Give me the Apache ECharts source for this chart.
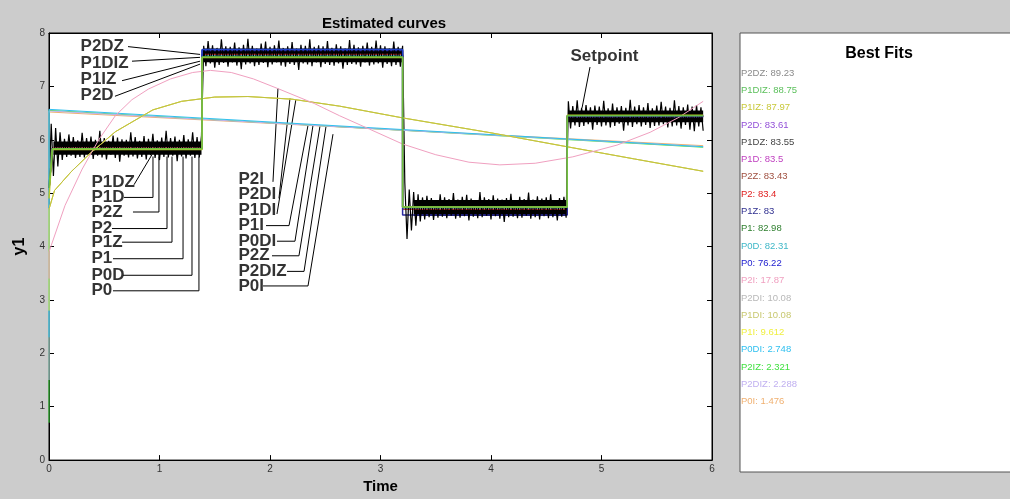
<!DOCTYPE html>
<html><head><meta charset="utf-8">
<script src="https://cdn.jsdelivr.net/npm/echarts@6/dist/echarts.min.js"></script>
<style>html,body{margin:0;padding:0;background:#cccccc;}#c{width:1010px;height:499px;}</style>
</head><body><div id="c"></div>
<script>
// ------------------------- DATA -------------------------
const xTicks = [0, 1, 2, 3, 4, 5, 6];
const yTicks = [0, 1, 2, 3, 4, 5, 6, 7, 8];

// measured output (setpoint) : level of each plateau + noise around it (hundredths)
const stepTimes = [0, 1.385, 3.20, 4.69, 5.92];
const riseEnd = 0.03;
const noiseStep = 0.02;
const noiseStart = [0.00, 1.40, 3.22, 4.70];
const noiseLevels = [5.84, 7.58, 4.72, 6.44];
// dense core of the noise band per plateau: [tStart, tEnd, low, high]
const noiseCore = [[0.04, 1.38, 5.72, 5.97], [1.40, 3.20, 7.45, 7.71], [3.30, 4.68, 4.57, 4.87], [4.70, 5.92, 6.33, 6.55]];
const noiseSeg1 = [-78,46,-52,38,-34,30,-22,18,-16,26, -14,21,-18,15,-16,29,-17,19,-13,22,
  -20,16,-14,33,-17,19,-21,14,-12,24, -18,20,-25,17,-14,16,-17,30,-15,21,
  -19,14,-16,23,-21,18,-13,27,-18,15, -22,20,-16,33,-17,19,-14,22,-24,16,
  -15,25,-19,17,-14,30,-18,21,-17,24];
const noiseSeg2 = [18,-20,27,-15,19,-23,14,-18,30,-14, 17,-21,16,-13,24,-19,15,-26,20,-17,
  31,-15,18,-20,13,-18,22,-14,26,-22, 16,-17,19,-13,28,-19,14,-21,17,-16,
  25,-18,13,-27,20,-15,18,-17,30,-20, 16,-13,19,-22,17,-16,27,-18,14,-19,
  21,-15,17,-25,13,-18,29,-16,20,-17, 15,-21,18,-13,24,-19,16,-17,28,-15,
  19,-23,17,-16,13,-20,26,-18,16,-21, 18];
const noiseSeg3 = [48,-58,35,-42,30,-33,26,-25,20,-21, 23,-17,19,-22,15,-18,26,-16,20,-19,
  17,-14,28,-20,16,-18,21,-15,25,-23, 18,-16,15,-19,30,-17,20,-14,17,-21,
  24,-15,18,-20,16,-26,19,-17,27,-16, 15,-19,21,-18,17,-14,29,-20,16,-17,
  22,-21,18,-15,20,-19,26,-17,15,-23, 19,-16,21,-18];
const noiseSeg4 = [28,-23,19,-17,30,-20,16,-18,21,-15, 17,-25,20,-16,18,-19,29,-17,15,-21,
  24,-18,17,-14,19,-27,16,-17,31,-20, 18,-15,21,-19,17,-16,25,-22,15,-18,
  20,-17,27,-15,18,-21,16,-19,30,-17, 19,-23,17,-16,22,-25,18,-28,21,-19,
  17,-27];

// best fits list
const fitNames  = ['P2DZ','P1DIZ','P1IZ','P2D','P1DZ','P1D','P2Z','P2','P1Z','P1','P0D','P0','P2I','P2DI','P1DI','P1I','P0DI','P2IZ','P2DIZ','P0I'];
const fitValues = [89.23, 88.75, 87.97, 83.61, 83.55, 83.5, 83.43, 83.4, 83, 82.98, 82.31, 76.22, 17.87, 10.08, 10.08, 9.612, 2.748, 2.321, 2.288, 1.476];
const fitColors = ['#8a8a8a','#5cc05c','#c8c83a','#9350d8','#444444','#c040c0','#a05040','#e02020','#303090','#308030','#40b8c8','#2020d0','#f0a0c0','#b8b8b8','#c8c870','#f0f040','#30c0f0','#40e040','#c0b0f0','#f0b070'];

// step-following models: start value and plateau levels
const hiddenFitNames = ['P2DZ','P2D','P1DZ','P1D','P2Z','P2','P1','P0D','P1Z'];
const hiddenFitInit  = [5.02, 5.05, 5.00, 5.00, 5.02, 5.00, 5.00, 5.05, 5.10];
const hiddenFitLevels = [
  [5.84,7.58,4.72,6.44],[5.85,7.59,4.71,6.45],[5.83,7.57,4.73,6.44],[5.84,7.58,4.72,6.43],
  [5.84,7.60,4.70,6.44],[5.85,7.60,4.70,6.45],[5.83,7.57,4.73,6.44],[5.84,7.58,4.72,6.44],
  [5.83,7.67,4.59,6.43]];
const topFitNames = ['P0','P1IZ','P1DIZ'];
const topFitInit  = [5.10, 4.90, 5.10];
const topFitLevels = [[5.83,7.69,4.74,6.45],[5.82,7.54,4.74,6.46],[5.83,7.55,4.74,6.45]];

// poorly fitting models
const lineP0I   = [[0,6.52],[5.92,5.89]];
const lineP2IZ  = [[0,0.7],[0,6.55],[5.92,5.86]];
const lineP2DIZ = [[0,1.5],[0,6.54],[5.92,5.87]];
const lineP0DI  = [[0,2.3],[0,6.57],[5.92,5.87]];
const curveYellow = [[0,4.7],[0.05,5.05],[0.2,5.4],[0.37,5.74],[0.6,6.15],[0.94,6.56],[1.2,6.72],[1.5,6.8],[1.8,6.81],[2.2,6.76],[2.63,6.63],[3.2,6.41],[4.0,6.13],[4.74,5.85],[5.3,5.64],[5.92,5.41]];
const curveP1I = [[0,2.8]].concat(curveYellow);
const curveP2I = [[0,3.4],[0,3.9],[0.145,4.77],[0.3,5.45],[0.45,6.0],[0.6,6.45],[0.75,6.75],[0.9,6.95],[1.1,7.14],[1.3,7.26],[1.46,7.3],[1.65,7.26],[1.85,7.14],[2.07,6.96],[2.4,6.68],[2.63,6.45],[2.9,6.2],[3.2,5.92],[3.5,5.72],[3.8,5.58],[4.08,5.53],[4.4,5.56],[4.74,5.68],[5.14,5.9],[5.44,6.14],[5.7,6.42],[5.92,6.72]];

// annotations (data units)
const annLabels = ['P2DZ','P1DIZ','P1IZ','P2D','P1DZ','P1D','P2Z','P2','P1Z','P1','P0D','P0','P2I','P2DI','P1DI','P1I','P0DI','P2Z','P2DIZ','P0I','Setpoint'];
const annAt = [
  [0.281,7.745],[0.281,7.435],[0.281,7.125],[0.281,6.834],
  [0.380,5.194],[0.380,4.920],[0.380,4.647],[0.380,4.337],[0.380,4.082],[0.380,3.772],[0.380,3.462],[0.380,3.171],
  [1.710,5.266],[1.710,4.975],[1.710,4.683],[1.710,4.392],[1.710,4.100],[1.710,3.827],[1.710,3.535],[1.710,3.262],
  [4.715,7.563]];
const annLeader = [
  [[0.715,7.745],[1.367,7.599]],
  [[0.751,7.472],[1.367,7.544]],
  [[0.661,7.107],[1.367,7.472]],
  [[0.597,6.815],[1.367,7.417]],
  [[0.769,5.157],[0.932,5.722]],
  [[0.679,4.920],[0.941,4.920],[0.941,5.686]],
  [[0.760,4.647],[0.995,4.647],[0.995,5.686]],
  [[0.570,4.337],[1.068,4.337],[1.068,5.686]],
  [[0.661,4.082],[1.113,4.082],[1.113,5.686]],
  [[0.579,3.772],[1.213,3.772],[1.213,5.686]],
  [[0.670,3.462],[1.294,3.462],[1.294,5.686]],
  [[0.579,3.171],[1.357,3.171],[1.357,5.686]],
  [[2.027,5.212],[2.072,6.961]],
  [[2.081,4.902],[2.181,6.779]],
  [[2.063,4.610],[2.235,6.761]],
  [[1.964,4.392],[2.172,4.392],[2.344,6.269]],
  [[2.063,4.100],[2.226,4.100],[2.389,6.269]],
  [[2.018,3.827],[2.262,3.827],[2.452,6.251]],
  [[2.154,3.535],[2.308,3.535],[2.507,6.251]],
  [[1.937,3.262],[2.344,3.262],[2.570,6.105]],
  [[4.896,7.362],[4.824,6.597]]
];

// ------------------------- BUILD -------------------------
const FONT = 'Arial, "Liberation Sans", sans-serif';
const colorOf = n => fitColors[fitNames.indexOf(n)];
const segPts = (start, level, devs) => devs.map((d, i) => [+(start + i * noiseStep).toFixed(3), +(level + d / 100).toFixed(3)]);
const noiseData = [].concat(
  segPts(noiseStart[0], noiseLevels[0], noiseSeg1),
  segPts(noiseStart[1], noiseLevels[1], noiseSeg2),
  segPts(noiseStart[2], noiseLevels[2], noiseSeg3),
  segPts(noiseStart[3], noiseLevels[3], noiseSeg4));
function stepPts(init, lv) {
  const t = stepTimes;
  return [[t[0], init], [riseEnd, lv[0]], [t[1], lv[0]], [t[1], lv[1]], [t[2], lv[1]], [t[2], lv[2]], [t[3], lv[2]], [t[3], lv[3]], [t[4], lv[3]]];
}
function ln(name, data, color, width) {
  return { type: 'line', name, data, symbol: 'none', showSymbol: false, silent: true, animation: false,
    lineStyle: { color, width: width || 1 }, itemStyle: { color }, emphasis: { disabled: true } };
}
const series = [];
const hiddenColors = hiddenFitNames.map(n => n === 'P1Z' ? '#2a2aa0' : colorOf(n));
hiddenFitNames.forEach((n, i) => series.push(ln(n, stepPts(hiddenFitInit[i], hiddenFitLevels[i]), hiddenColors[i], n === 'P1Z' ? 1.5 : 1)));
series.push({
  type: 'custom', silent: true, animation: false, data: noiseCore,
  renderItem: (params, api) => {
    const p0 = api.coord([api.value(0), api.value(3)]);
    const p1 = api.coord([api.value(1), api.value(2)]);
    return { type: 'rect', shape: { x: p0[0], y: p0[1], width: p1[0] - p0[0], height: p1[1] - p0[1] },
      style: { fill: '#000' } };
  }
});
series.push(ln('Setpoint', noiseData, '#000', 1.2));
series.push(ln('P0I', lineP0I, colorOf('P0I'), 1));
series.push(ln('P2IZ', lineP2IZ, colorOf('P2IZ'), 1));
series.push(ln('P2DIZ', lineP2DIZ, colorOf('P2DIZ'), 1));
series.push(ln('P0DI', lineP0DI, colorOf('P0DI'), 1));
series.push(ln('P2DI', curveYellow, colorOf('P2DI'), 1));
series.push(ln('P1I', curveP1I, colorOf('P1I'), 1));
series.push(ln('P1DI', curveYellow, '#c0c040', 1));
series.push(ln('P2I', curveP2I, colorOf('P2I'), 1));
const topColors = ['#2040c8', '#b8c828', '#70c040'];
topFitNames.forEach((n, i) => series.push(ln(n, stepPts(topFitInit[i], topFitLevels[i]), topColors[i], 1.5)));
series.push({
  type: 'lines', coordinateSystem: 'cartesian2d', polyline: true, silent: true, animation: false,
  data: annLeader.map(c => ({ coords: c })),
  lineStyle: { color: '#000', width: 1, opacity: 1, curveness: 0 }
});
series.push({
  type: 'scatter', silent: true, animation: false, symbolSize: 1,
  itemStyle: { color: 'rgba(0,0,0,0)' },
  data: annAt.map((p, i) => ({ value: p, name: annLabels[i] })),
  label: { show: true, position: 'right', distance: 0, formatter: '{b}', color: '#000',
    fontWeight: 'bold', fontSize: 17, fontFamily: FONT }
});

const axisCommon = {
  type: 'value', axisLine: { show: true, onZero: false, lineStyle: { color: '#000', width: 1 } },
  axisTick: { show: true, inside: true, length: 5, lineStyle: { color: '#000' } },
  splitLine: { show: false }
};
const panelTexts = fitNames.map((n, i) => ({
  type: 'text', x: 741, y: 73 + 17.3 * i, silent: true,
  style: { text: n + ': ' + fitValues[i], fill: fitColors[i], font: '9.5px ' + FONT,
    align: 'left', verticalAlign: 'middle', textAlign: 'left', textVerticalAlign: 'middle' }
}));

const chart = echarts.init(document.getElementById('c'), null, { renderer: 'canvas' });
chart.setOption({
  backgroundColor: '#cccccc',
  animation: false,
  title: { text: 'Estimated curves', left: 379, top: 11, textAlign: 'center',
    textStyle: { fontSize: 15, fontWeight: 'bold', color: '#000', fontFamily: FONT } },
  grid: { left: 49, right: 298, top: 33, bottom: 27, show: true, backgroundColor: '#fff', borderColor: '#000', borderWidth: 1 },
  xAxis: [
    Object.assign({}, axisCommon, { min: xTicks[0], max: xTicks[xTicks.length - 1], interval: 1, position: 'bottom',
      axisLabel: { margin: 4, color: '#333', fontSize: 10, fontFamily: FONT },
      name: 'Time', nameLocation: 'middle', nameGap: 15,
      nameTextStyle: { fontWeight: 'bold', fontSize: 15, color: '#000', fontFamily: FONT } }),
    Object.assign({}, axisCommon, { min: xTicks[0], max: xTicks[xTicks.length - 1], interval: 1, position: 'top', axisLabel: { show: false } })
  ],
  yAxis: [
    Object.assign({}, axisCommon, { min: yTicks[0], max: yTicks[yTicks.length - 1], interval: 1, position: 'left',
      axisLabel: { margin: 4, color: '#333', fontSize: 10, fontFamily: FONT },
      name: 'y1', nameLocation: 'middle', nameGap: 21,
      nameTextStyle: { fontWeight: 'bold', fontSize: 16, color: '#000', fontFamily: FONT } }),
    Object.assign({}, axisCommon, { min: yTicks[0], max: yTicks[yTicks.length - 1], interval: 1, position: 'right', axisLabel: { show: false } })
  ],
  graphic: [
    { type: 'rect', shape: { x: 740, y: 33, width: 300, height: 439 }, silent: true,
      style: { fill: '#fff', stroke: '#555', lineWidth: 1 } },
    { type: 'text', x: 879, y: 54, silent: true,
      style: { text: 'Best Fits', fill: '#000', font: 'bold 16px ' + FONT, align: 'center', verticalAlign: 'middle', textAlign: 'center', textVerticalAlign: 'middle' } }
  ].concat(panelTexts),
  series
});
</script>
</body></html>
